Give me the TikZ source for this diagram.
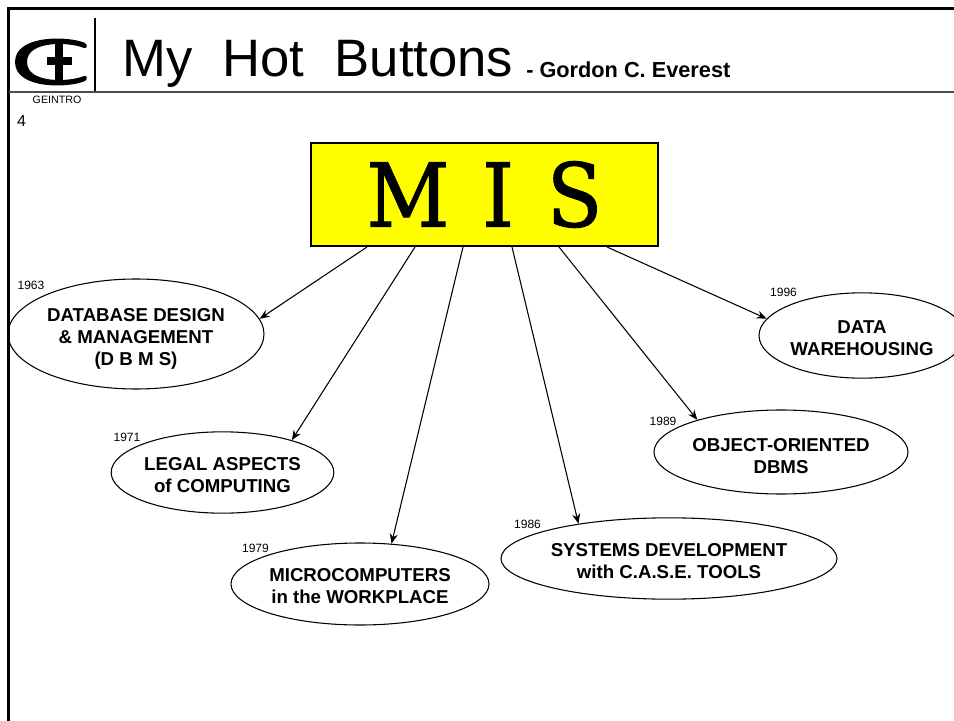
\documentclass[tikz,border=0pt]{standalone}
\usepackage{fontspec}
\setmainfont{Liberation Sans}
\newfontfamily\misfont[FakeStretch=0.92,FakeBold=1.2]{DejaVu Serif}
\usetikzlibrary{arrows.meta,shapes.geometric}
\definecolor{misyellow}{RGB}{255,255,0}
\newcommand{\toprow}[1]{\rule{0pt}{#1pt}}
\begin{document}
\begin{tikzpicture}[x=0.75pt, y=-0.75pt,
  topicnode/.style={draw, ellipse, line width=0.8pt, inner sep=0pt, align=center, font=\fontsize{14}{16.5}\selectfont\bfseries},
  yearnode/.style={inner sep=0pt, font=\fontsize{9}{11}\selectfont},
  arrowline/.style={-{Stealth[length=7.5pt,width=6pt]}, line width=0.8pt}]
\useasboundingbox (0,0) rectangle (954,721);
% Header
\draw[line width=2.2pt] (954,8.5) -- (8.5,8.5) -- (8.5,721);
\draw[line width=1.5pt, black!70] (8.5,92) -- (954,92);
\draw[line width=1.1pt] (95,18) -- (95,91);
% Logo
\fill (85,43) .. controls (70,36) and (15,34) .. (15,62) .. controls (15,90) and (70,88) .. (85,81)
  .. controls (88,79) and (87,75) .. (84,76) .. controls (70,82) and (27,84) .. (27,62)
  .. controls (27,40) and (70,42) .. (84,48) .. controls (87,49) and (88,45) .. (85,43) -- cycle;
\draw[line width=6pt] (59,42) -- (59,82);
\draw[line width=6pt] (47,61) -- (72,61);
% Title
\node[inner sep=0pt, anchor=base west, font=\fontsize{39.5}{50}\selectfont] (title) at (122,76) {My\hspace{0.295em} Hot\hspace{0.295em} Buttons};
\node[inner sep=0pt, anchor=base west, font=\fontsize{16.3}{20}\selectfont\bfseries] (author) at (526,77) {- Gordon C. Everest};
\node[inner sep=0pt, font=\fontsize{8}{10}\selectfont] (code) at (57,100) {GEINTRO};
\node[inner sep=0pt, font=\fontsize{12}{14}\selectfont] (page) at (21.5,121) {4};
% Center: MIS
\node[draw, fill=misyellow, line width=1.5pt, minimum width=260pt, minimum height=77pt, inner sep=0pt, font=\misfont\fontsize{66}{70}\selectfont] (mis) at (484.5,194.5) {M\hspace{0.08em} I\hspace{0.08em} S};
% Topics
\node[topicnode, minimum width=192pt, minimum height=82.5pt] (dbms) at (136,334) {\toprow{17.5}DATABASE DESIGN\\\& MANAGEMENT\\(D B M S)};
\node[topicnode, minimum width=167pt, minimum height=61pt] (legal) at (222.5,472.5) {\toprow{13.5}LEGAL ASPECTS\\of COMPUTING};
\node[topicnode, minimum width=193.5pt, minimum height=61.5pt] (micro) at (360,584) {\toprow{13.5}MICROCOMPUTERS\\in the WORKPLACE};
\node[topicnode, minimum width=252pt, minimum height=61pt] (tools) at (669,558.5) {\toprow{13.5}SYSTEMS DEVELOPMENT\\with C.A.S.E. TOOLS};
\node[topicnode, minimum width=190.5pt, minimum height=63pt] (oodb) at (781,452) {\toprow{15.5}OBJECT-ORIENTED\\DBMS};
\node[topicnode, minimum width=154.5pt, minimum height=64pt] (dware) at (862,335.5) {\toprow{13.5}DATA\\WAREHOUSING};
% Years
\node[yearnode] (y63) at (31,285) {1963};
\node[yearnode] (y71) at (127,437) {1971};
\node[yearnode] (y79) at (255.5,548) {1979};
\node[yearnode] (y86) at (527.5,524) {1986};
\node[yearnode] (y89) at (663,421) {1989};
\node[yearnode] (y96) at (783.5,292) {1996};
% Arrows
\coordinate (s1) at (367,247);
\coordinate (s2) at (415,247);
\coordinate (s3) at (463,247);
\coordinate (s4) at (512,247);
\coordinate (s5) at (559,247);
\coordinate (s6) at (607,247);
\draw[arrowline] (s1) -- (dbms.7.5);
\draw[arrowline] (s2) -- (legal.25.4);
\draw[arrowline] (s3) -- (micro.52);
\draw[arrowline] (s4) -- (tools.159.5);
\draw[arrowline] (s5) -- (oodb.159);
\draw[arrowline] (s6) -- (dware.170);
\end{tikzpicture}
\end{document}
